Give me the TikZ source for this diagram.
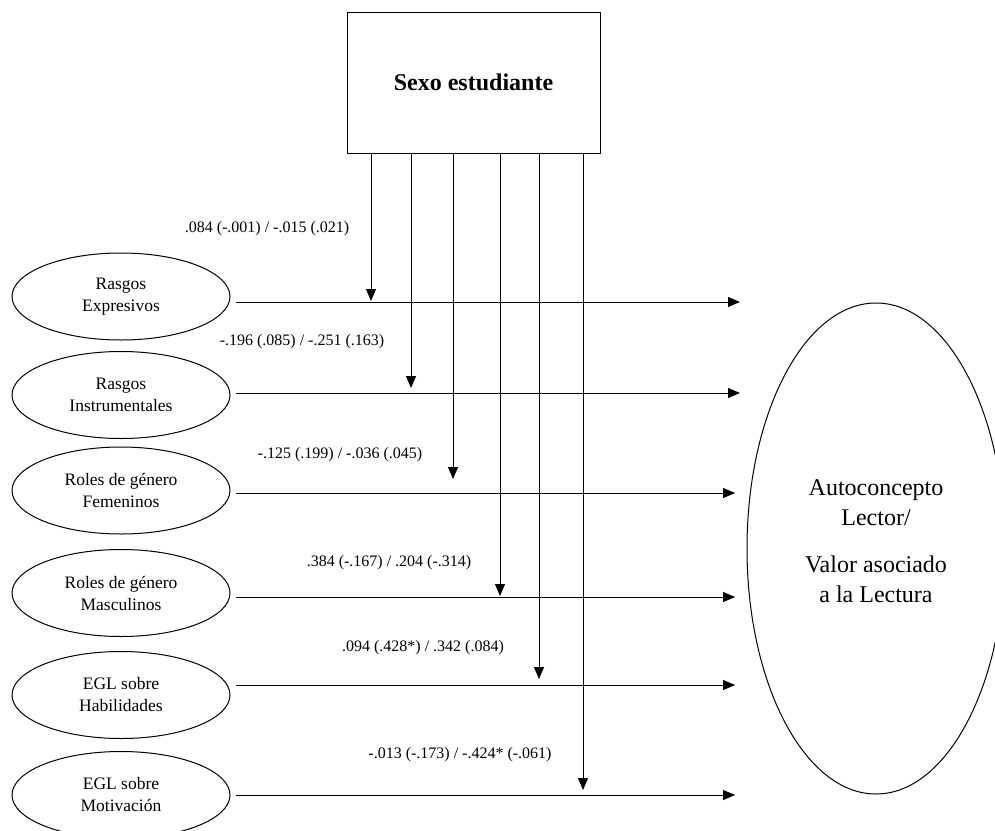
\documentclass[tikz,border=0pt]{standalone}
\usepackage{fontspec}
\setmainfont{Liberation Serif}
\usetikzlibrary{shapes.geometric,arrows.meta}
\begin{document}
\begin{tikzpicture}[x=1pt,y=-1pt,
  line width=1pt,
  arr/.style={-{Triangle[length=12pt,width=10pt]}},
  lat/.style={ellipse,draw,minimum width=218pt,minimum height=87pt,inner sep=0pt,align=center,
    font=\fontsize{17.5}{22}\selectfont},
  lab/.style={inner sep=0pt,font=\fontsize{16}{18}\selectfont}]
\useasboundingbox (0,0) rectangle (995,830);
\begin{scope}
\clip (0,0) rectangle (995,830);
% main box
\node[draw,minimum width=253pt,minimum height=141pt,inner sep=0pt,
  font=\fontsize{24}{28}\selectfont\bfseries] (sexo) at (473.5,82.5) {Sexo estudiante};
% left ellipses
\node[lat] (e1) at (121,296.5) {Rasgos\\Expresivos};
\node[lat] (e2) at (121,395) {Rasgos\\Instrumentales};
\node[lat] (e3) at (121,490.5) {Roles de género\\Femeninos};
\node[lat] (e4) at (121,593) {Roles de género\\Masculinos};
\node[lat] (e5) at (121,695) {EGL sobre\\Habilidades};
\node[lat] (e6) at (121,795) {EGL sobre\\Motivación};
% outcome ellipse
\node[ellipse,draw,minimum width=258pt,minimum height=491pt,inner sep=0pt] (ac) at (876,548.5) {};
\end{scope}
\node[align=center,inner sep=0pt,font=\fontsize{24}{30}\selectfont] (actext) at (876,541)
  {Autoconcepto\\Lector/\\[17pt]Valor asociado\\a la Lectura};
% arrow end coordinates
\coordinate (t1) at (740,302);
\coordinate (t2) at (740,393);
\coordinate (t3) at (735,493);
\coordinate (t4) at (735,597);
\coordinate (t5) at (735,685);
\coordinate (t6) at (735,795);
\coordinate (v1) at (371,301);
\coordinate (v2) at (411,388);
\coordinate (v3) at (453,479);
\coordinate (v4) at (500,596);
\coordinate (v5) at (539,679);
\coordinate (v6) at (583,790);
% horizontal arrows
\foreach \i in {1,...,6}{
  \draw[arr] (e\i.east |- t\i) ++(5,0) -- (t\i);
}
% vertical arrows
\foreach \i in {1,...,6}{
  \draw[arr] (sexo.south -| v\i) -- (v\i);
}
% labels
\node[lab] (l1) at (267,229) {.084 (-.001) / -.015 (.021)};
\node[lab] (l2) at (302,342) {-.196 (.085) / -.251 (.163)};
\node[lab] (l3) at (340,455) {-.125 (.199) / -.036 (.045)};
\node[lab] (l4) at (389,563) {.384 (-.167) / .204 (-.314)};
\node[lab] (l5) at (423,648) {.094 (.428*) / .342 (.084)};
\node[lab] (l6) at (460,755) {-.013 (-.173) / -.424* (-.061)};
\end{tikzpicture}
\end{document}
